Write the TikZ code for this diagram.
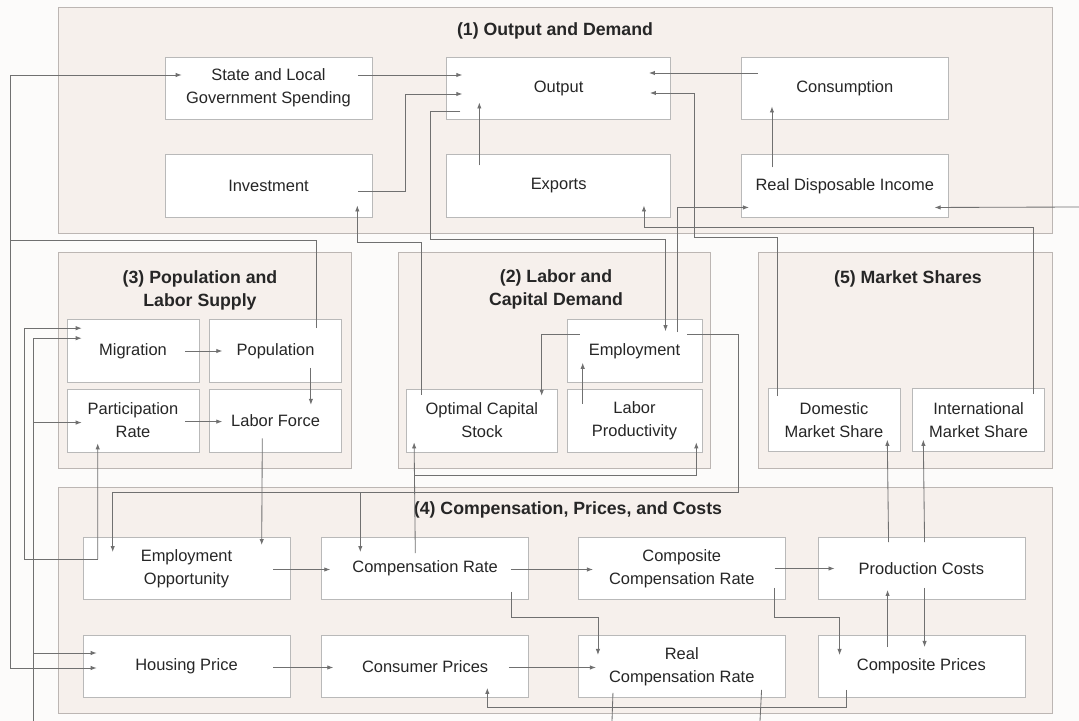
\documentclass[tikz,border=0pt]{standalone}
\usepackage{fontspec}
\setmainfont{Liberation Sans}
\usepackage{tikz}
\usetikzlibrary{arrows.meta,positioning,calc}
\definecolor{paper}{RGB}{252,251,250}
\definecolor{secfill}{RGB}{246,240,236}
\definecolor{secline}{RGB}{188,182,179}
\definecolor{boxline}{RGB}{185,185,185}
\definecolor{linegray}{RGB}{112,112,112}
\definecolor{ink}{RGB}{38,38,38}

\begin{document}
\begin{tikzpicture}[
  x=0.025cm, y=-0.025cm,
  every node/.style={font=\fontsize{11.7}{16.4}\selectfont, text=ink},
  section/.style={draw=secline, fill=secfill, line width=0.6pt},
  title/.style={font=\bfseries\fontsize{12.6}{16.4}\selectfont, align=center},
  box/.style={draw=boxline, fill=white, align=center, inner sep=0pt, minimum width=5.175cm, minimum height=1.56cm},
  smallbox/.style={box, minimum width=3.3cm, minimum height=1.575cm},
  arrow/.style={-{Latex[length=1.5mm,width=1.1mm]}, draw=linegray, line width=0.6pt},
  link/.style={draw=linegray, line width=0.6pt}
]
\useasboundingbox[fill=paper] (0,0) rectangle (1079,721);
\draw[section] (58,7) rectangle (1052,233);
\draw[section] (58,252) rectangle (351,468);
\draw[section] (398,252) rectangle (710,468);
\draw[section] (758,252) rectangle (1052,468);
\draw[section] (58,487) rectangle (1052,713);
\node[title] (t1) at (555,31) {(1) Output and Demand};
\node[title] (t3) at (200,290) {(3) Population and\\Labor Supply};
\node[title] (t2) at (556,289) {(2) Labor and\\Capital Demand};
\node[title] (t5) at (908,279) {(5) Market Shares};
\node[title] (t4) at (568,510) {(4) Compensation, Prices, and Costs};
\node[box] (state) at (268.5,88) {State and Local\\Government Spending};
\node[box, minimum width=5.6cm, right=1.85cm of state] (output) {Output};
\node[box, right=1.75cm of output] (consumption) {Consumption};
\node[box, below=0.875cm of state] (invest) {Investment};
\node[box, minimum width=5.6cm, below=0.875cm of output] (exports) {Exports};
\node[box, below=0.875cm of consumption] (rdi) {Real Disposable Income};
\node[smallbox] (migration) at (133,351) {Migration};
\node[smallbox, right=0.25cm of migration] (population) {Population};
\node[smallbox, below=0.15cm of migration] (partrate) {Participation\\Rate};
\node[smallbox, below=0.15cm of population] (laborforce) {Labor Force};
\node[smallbox, minimum width=3.375cm] (employment) at (634.5,351) {Employment};
\node[smallbox, minimum width=3.375cm, below=0.15cm of employment] (labprod) {Labor\\Productivity};
\node[smallbox, minimum width=3.775cm, left=0.225cm of labprod] (optcap) {Optimal Capital\\Stock};
\node[smallbox] (domestic) at (834,420) {Domestic\\Market Share};
\node[smallbox, right=0.3cm of domestic] (intl) {International\\Market Share};
\node[box] (empopp) at (186.5,568.5) {Employment\\Opportunity};
\node[box, right=0.775cm of empopp] (comprate) {Compensation Rate};
\node[box, right=1.225cm of comprate] (compcomp) {Composite\\Compensation Rate};
\node[box, right=0.8cm of compcomp] (prodcost) {Production Costs};
\node[box, below=0.875cm of empopp] (housing) {Housing Price};
\node[box, below=0.875cm of comprate] (consumer) {Consumer Prices};
\node[box, below=0.875cm of compcomp] (realcomp) {Real\\Compensation Rate};
\node[box, below=0.875cm of prodcost] (compprices) {Composite Prices};
\coordinate (popbus) at (10,240);
\coordinate (leftin) at (33,721);
\coordinate (rdiin) at (1079,207);
\coordinate (outa) at (612,721);
\coordinate (outb) at (760,721);
\draw[arrow] ($(state.east)+(-14,-13)$) -- ($(output.west)+(16,-13)$);
\draw[arrow] ($(invest.east)+(-14,5)$) -| ($(output.west)+(-41,6)$) -- ($(output.west)+(16,6)$);
\draw[arrow] ($(exports.north west)+(33,11)$) -- ($(output.south west)+(33,-17)$);
\draw[arrow] ($(consumption.west)+(17,-15)$) -- ($(output.east)+(-22,-15)$);
\draw[arrow] ($(rdi.north west)+(31,13)$) -- ($(consumption.south west)+(31,-13)$);
\draw[arrow] ($(domestic.north west)+(10,8)$) -- ++(0,-159) -| ($(output.east)+(23,5)$) -- ($(output.east)+(-21,5)$);
\draw[arrow] ($(intl.north east)+(-11,6)$) -- ++(0,-167) -| ($(exports.south east)+(-27,-12)$);
\draw[arrow] ($(output.west)+(14,23)$) -- ++(-30,0) |- ($(employment.north)+(31,-80)$) -- ($(employment.north)+(31,12)$);
\draw[arrow] ($(employment.north)+(43,13)$) |- ($(rdi.south west)+(8,-10)$);
\draw[arrow] (rdiin) -- ($(rdi.south east)+(-14,-10)$);
\draw[arrow] ($(optcap.north west)+(15,6)$) |- ($(invest.south east)+(-15,25)$) -- ($(invest.south east)+(-15,-12)$);
\draw[arrow] ($(employment.west)+(13,-17)$) -| ($(optcap.north east)+(-16,7)$);
\draw[arrow] ($(labprod.north west)+(16,15)$) -- ($(employment.south west)+(16,-20)$);
\draw[arrow] ($(population.north east)+(-25,9)$) |- (popbus) |- ($(state.west)+(17,-13)$);
\draw[arrow] (popbus) |- ($(housing.north west)+(14,33)$);
\draw[arrow] ($(migration.east)+(-14,0)$) -- ($(population.west)+(13,0)$);
\draw[arrow] ($(population.south east)+(-31,-15)$) -- ($(laborforce.north east)+(-31,16)$);
\draw[arrow] ($(partrate.east)+(-14,1)$) -- ($(laborforce.west)+(13,1)$);
\draw[arrow] ($(empopp.north west)+(15,22)$) -- ($(partrate.south west)+(31,-9)$);
\draw[arrow] ($(empopp.north west)+(15,22)$) -- ++(-73,0) |- ($(migration.north west)+(15,9)$);
\draw[arrow] (leftin) |- ($(migration.north west)+(15,19)$);
\draw[arrow] (leftin) |- ($(partrate.west)+(15,2)$);
\draw[arrow] (leftin) |- ($(housing.north west)+(14,18)$);
\draw[arrow] ($(laborforce.south west)+(53,-14)$) -- ($(empopp.north west)+(179,8)$);
\draw[arrow] ($(employment.north east)+(-15,15)$) -- ++(51,0) |- ($(empopp.north west)+(30,-45)$) -- ($(empopp.north west)+(30,15)$);
\draw[arrow] ($(comprate.north west)+(39,-45)$) -- ($(comprate.north west)+(39,15)$);
\draw[arrow] ($(comprate.north west)+(94,16)$) -- ($(optcap.south west)+(8,-10)$);
\draw[arrow] ($(comprate.north west)+(94,-62)$) -| ($(labprod.south east)+(-6,-10)$);
\draw[arrow] ($(empopp.east)+(-17,1)$) -- ($(comprate.west)+(9,1)$);
\draw[arrow] ($(comprate.east)+(-18,1)$) -- ($(compcomp.west)+(15,1)$);
\draw[arrow] ($(compcomp.east)+(-11,0)$) -- ($(prodcost.west)+(17,0)$);
\draw[arrow] ($(prodcost.north west)+(71,5)$) -- ($(domestic.south east)+(-13,-12)$);
\draw[arrow] ($(prodcost.north west)+(107,5)$) -- ($(intl.south west)+(11,-12)$);
\draw[arrow] ($(compprices.north west)+(70,12)$) -- ($(prodcost.south west)+(70,-10)$);
\draw[arrow] ($(prodcost.south west)+(107,-12)$) -- ($(compprices.north west)+(107,12)$);
\draw[arrow] ($(compcomp.south east)+(-11,-12)$) -- ++(0,29) -| ($(compprices.north west)+(22,20)$);
\draw[arrow] ($(comprate.south east)+(-18,-8)$) -- ++(0,25) -| ($(realcomp.north west)+(20,20)$);
\draw[arrow] ($(consumer.east)+(-20,1)$) -- ($(realcomp.west)+(18,1)$);
\draw[arrow] ($(housing.east)+(-17,1)$) -- ($(consumer.west)+(12,1)$);
\draw[arrow] ($(compprices.south west)+(29,-8)$) -- ++(0,17) -| ($(consumer.south west)+(166,-10)$);
\draw[link] ($(realcomp.south west)+(35,-5)$) -- (outa);
\draw[link] ($(realcomp.south east)+(-24,-8)$) -- (outb);
\end{tikzpicture}
\end{document}
